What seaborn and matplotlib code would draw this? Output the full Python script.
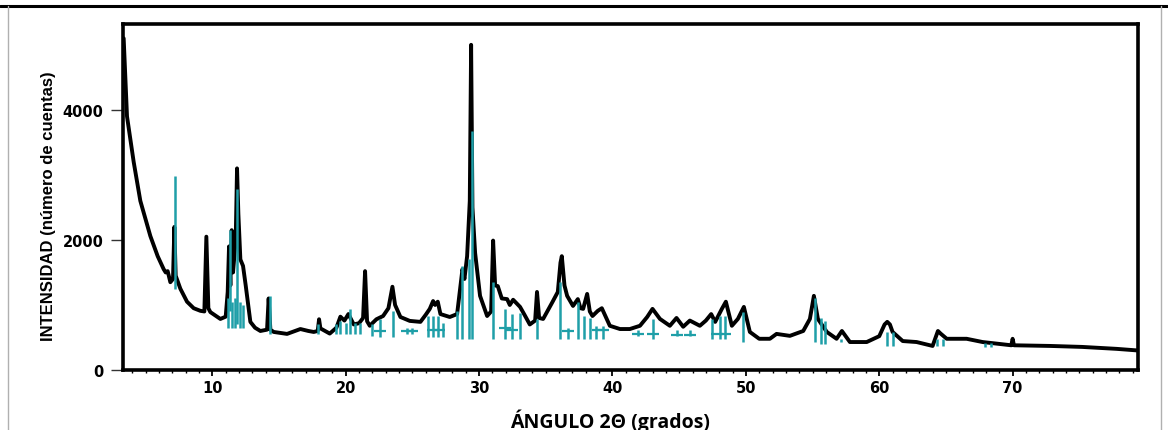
import matplotlib
matplotlib.use("Agg")
import matplotlib.pyplot as plt
from matplotlib.lines import Line2D
from matplotlib.ticker import MultipleLocator
import seaborn as sns
import pandas as pd

# ---- measured pattern (2-theta in degrees, intensity in counts) ----
angle = [3.35, 3.6, 4.1, 4.6, 5.35, 5.9, 6.35, 6.5, 6.65, 6.85, 7.05, 7.15, 7.25,
         7.6, 8.1, 8.6, 9.1, 9.4, 9.55, 9.7, 9.85, 10.6, 11.0, 11.15, 11.25, 11.35,
         11.45, 11.55, 11.75, 11.85, 11.95, 12.1, 12.3, 12.5, 12.85, 13.2, 13.6,
         14.1, 14.22, 14.35, 14.6, 15.6, 16.2, 16.6, 17.2, 17.6, 17.9, 18.0, 18.1,
         18.8, 19.3, 19.6, 19.9, 20.2, 20.6, 21.0, 21.3, 21.45, 21.6, 21.8, 22.3,
         22.8, 23.2, 23.5, 23.7, 24.1, 24.8, 25.6, 26.0, 26.3, 26.55, 26.7, 26.9,
         27.1, 27.8, 28.35, 28.6, 28.75, 28.9, 29.1, 29.3, 29.4, 29.5, 29.7, 30.07,
         30.6, 30.9, 31.05, 31.2, 31.4, 31.7, 32.1, 32.3, 32.55, 33.07, 33.4, 33.8,
         34.2, 34.34, 34.5, 34.8, 35.5, 35.9, 36.1, 36.2, 36.4, 36.6, 37.04, 37.4,
         37.6, 37.8, 38.1, 38.3, 38.5, 38.9, 39.2, 39.8, 40.56, 41.3, 42.06, 42.6,
         43.0, 43.56, 44.3, 44.8, 45.3, 45.8, 46.55, 47.0, 47.4, 47.7, 48.2, 48.5,
         48.95, 49.4, 49.85, 50.3, 51.0, 51.8, 52.3, 53.3, 54.3, 54.8, 55.1, 55.4,
         56.07, 56.8, 57.2, 57.8, 59.06, 60.0, 60.4, 60.6, 60.8, 61.0, 61.76, 62.8,
         64.0, 64.4, 64.6, 65.06, 66.55, 67.75, 69.0, 69.9, 70.0, 70.1, 72.8, 75.2,
         77.8, 79.4]
counts = [5100, 3900, 3200, 2600, 2060, 1750, 1550, 1500, 1520, 1350, 1400, 2200, 1450,
          1250, 1050, 950, 910, 900, 2050, 950, 890, 785, 820, 1200, 1900, 1300,
          2150, 1500, 2000, 3100, 2400, 1700, 1600, 1300, 740, 650, 600,
          620, 1100, 620, 585, 555, 600, 630, 600, 585, 600, 780, 640,
          560, 650, 820, 760, 860, 700, 720, 800, 1520, 750, 680, 780,
          830, 950, 1280, 1000, 815, 755, 740, 850, 940, 1060, 1000, 1050,
          860, 815, 860, 1300, 1550, 1400, 1750, 2600, 5000, 2500, 1800, 1140,
          830, 900, 1990, 1300, 1290, 1100, 1090, 1000, 1080, 970, 850, 700,
          760, 1200, 800, 785, 1046, 1200, 1650, 1750, 1300, 1140, 985, 1090,
          950, 940, 1170, 900, 830, 910, 950, 680, 630, 630, 680, 815,
          940, 785, 680, 800, 665, 760, 680, 760, 860, 740, 940, 1050,
          680, 785, 970, 585, 480, 480, 555, 525, 600, 785, 1140, 785,
          585, 480, 600, 430, 430, 520, 700, 740, 700, 585, 445, 430,
          370, 600, 560, 480, 480, 430, 400, 380, 480, 380, 370, 355,
          325, 300]

# ---- reference pattern sticks (position, lower end, upper end) ----
stick_pos = [7.2, 11.35, 11.85, 11.2, 11.5, 11.7, 12.05, 12.3, 14.3, 17.95, 19.3, 19.6,
             20.0, 20.3, 20.7, 21.1, 22.0, 22.6, 23.56, 24.6, 25.0, 26.2, 26.55, 26.9,
             27.3, 28.35, 28.7, 29.25, 29.45, 31.05, 31.95, 32.5, 33.07, 34.34, 36.07,
             36.67, 37.4, 37.9, 38.3, 38.8, 39.3, 41.9, 43.0, 44.8, 45.8, 47.45, 48.05,
             48.4, 49.8, 55.2, 55.6, 55.9, 57.1, 60.55, 61.0, 64.3, 64.8, 67.9, 68.4]
stick_low = [1250, 900, 700, 650, 650, 650, 650, 650, 560, 550, 550, 550,
             550, 550, 550, 550, 520, 510, 510, 560, 560, 510, 510, 510,
             510, 480, 480, 480, 480, 480, 480, 480, 480, 480, 480,
             480, 480, 480, 480, 480, 480, 520, 480, 520, 520, 480, 480,
             480, 430, 430, 400, 400, 430, 370, 370, 370, 370, 360, 360]
stick_high = [2985, 2150, 2785, 1100, 1050, 1100, 1050, 1000, 1140, 700, 700, 760,
              720, 940, 720, 720, 700, 785, 910, 640, 640, 830, 830, 830,
              720, 900, 1600, 1700, 3680, 1350, 940, 860, 870, 785, 1350,
              650, 1046, 830, 800, 680, 680, 620, 785, 620, 620, 785, 830,
              830, 890, 1100, 800, 760, 470, 585, 585, 480, 480, 420, 420]

# error-bar crosses on the sticks (position, level)
cross_pos = [22.6, 24.6, 25.0, 26.55, 27.0, 31.95, 32.5, 36.67, 38.9, 39.3, 41.9,
             43.0, 44.8, 45.8, 47.8, 48.4]
cross_val = [600, 600, 600, 620, 620, 650, 620, 600, 620, 620, 560,
             560, 540, 540, 560, 560]

y_ticks = [0, 2000, 4000]
x_ticks = [10, 20, 30, 40, 50, 60, 70]

TEAL = "#1f9fa8"

sns.set_theme(style="white")
plt.rcParams['font.family'] = ['DejaVu Sans']

fig = plt.figure(figsize=(11.68, 4.31), dpi=100)
ax = fig.add_axes([123/1168, 1-371/431, (1138-123)/1168, (371-25)/431])

df = pd.DataFrame({"angle": angle, "counts": counts})
sns.lineplot(data=df, x="angle", y="counts", ax=ax, color="black", lw=2.8,
             sort=False, estimator=None, zorder=2)
ax.vlines(stick_pos, stick_low, stick_high, color=TEAL, lw=1.8, zorder=3)
ax.plot(cross_pos, cross_val, ls="none", marker="_", ms=8, mew=1.6, color=TEAL, zorder=3)

ax.set_xlim(3.3, 79.4)
ax.set_ylim(0, 5320)
ax.set_xticks(x_ticks)
ax.set_yticks(y_ticks)
ax.xaxis.set_minor_locator(MultipleLocator(1))

for s in ax.spines.values():
    s.set_linewidth(2.6)
    s.set_color("black")
    s.set_visible(True)

ax.tick_params(axis="y", which="major", direction="out", length=9, width=1.0,
               color="#333333", left=True, pad=5, labelsize=10.5)
ax.tick_params(axis="x", which="major", direction="out", length=4, width=1.3,
               color="black", bottom=True, pad=3, labelsize=10.5)
ax.tick_params(axis="x", which="minor", direction="out", length=2.5, width=1.0,
               color="black", bottom=True)
for lab in ax.get_xticklabels() + ax.get_yticklabels():
    lab.set_fontweight("bold")
    lab.set_color("black")

ax.set_xlabel("ÁNGULO 2Θ (grados)", fontsize=14, fontweight="bold",
              family=["Open Sans", "DejaVu Sans"], color="black")
ax.xaxis.set_label_coords(0.48, -0.11)
ax.set_ylabel("INTENSIDAD (número de cuentas)", fontsize=12, fontweight="bold",
              family=["Liberation Sans", "DejaVu Sans"], color="black")
ax.yaxis.set_label_coords(-0.066, 0.477)

# outer picture border
fig.add_artist(Line2D([0, 1], [1-7/431, 1-7/431], color="black", lw=2.2))
fig.add_artist(Line2D([8/1168, 8/1168], [0, 1-7/431], color="#b0b0b0", lw=1.0))
fig.add_artist(Line2D([1161/1168, 1161/1168], [0, 1-7/431], color="#b0b0b0", lw=1.0))

fig.savefig("out.png", dpi=100)
